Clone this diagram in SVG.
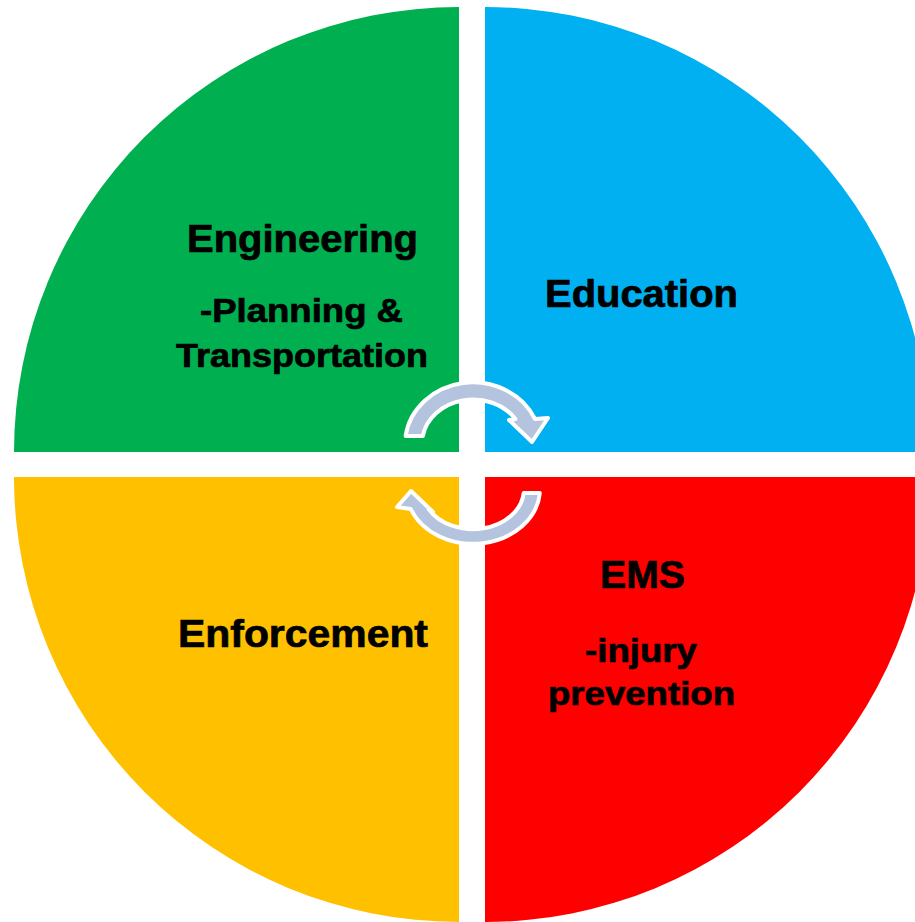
<svg xmlns="http://www.w3.org/2000/svg" width="915" height="922" viewBox="0 0 915 922">
<style>
text{font-family:"Liberation Sans",Arial,sans-serif;font-weight:bold;fill:#000;stroke:#000;stroke-width:0.7;text-anchor:middle}
.t{font-size:38px}
.s{font-size:33px}
.arrow{fill:#B4C3DE;stroke:#fff;stroke-width:4;stroke-linejoin:round}
</style>
<rect width="915" height="922" fill="#fff"/>
<g id="engineering">
<path d="M459,452 L14,452 A445,445 0 0 1 459,7 Z" fill="#00B050"/>
<text class="t" x="302.5" y="252" textLength="231" lengthAdjust="spacingAndGlyphs">Engineering</text>
<text class="s" x="301.5" y="322" textLength="203" lengthAdjust="spacingAndGlyphs">-Planning &amp;</text>
<text class="s" x="302" y="367" textLength="252" lengthAdjust="spacingAndGlyphs">Transportation</text>
</g>
<g id="education">
<path d="M485,452 L485,7 A445,445 0 0 1 930,452 Z" fill="#00B0F0"/>
<text class="t" x="641.5" y="307" textLength="193" lengthAdjust="spacingAndGlyphs">Education</text>
</g>
<g id="ems">
<path d="M485,477 L930,477 A445,445 0 0 1 485,922 Z" fill="#FF0000"/>
<text class="t" x="642.5" y="588" textLength="85" lengthAdjust="spacingAndGlyphs">EMS</text>
<text class="s" x="641" y="662" textLength="112" lengthAdjust="spacingAndGlyphs">-injury</text>
<text class="s" x="641.5" y="705" textLength="187" lengthAdjust="spacingAndGlyphs">prevention</text>
</g>
<g id="enforcement">
<path d="M459,477 L459,922 A445,445 0 0 1 14,477 Z" fill="#FFC000"/>
<text class="t" x="303" y="647" textLength="250" lengthAdjust="spacingAndGlyphs">Enforcement</text>
</g>
<g id="connectors">
<path class="arrow" d="M405.6,436 A68,62 0 0 1 535,419 L548,418 L532,442 L509,420 L515.4,419 A51,44 0 0 0 422.8,436 Z"/>
<path class="arrow" d="M539.8,493 A67,55 0 0 1 410.7,509 L397,507 L411,491 L433,512 L428.6,509 A51,40 0 0 0 523.7,493 Z"/>
</g>
</svg>
